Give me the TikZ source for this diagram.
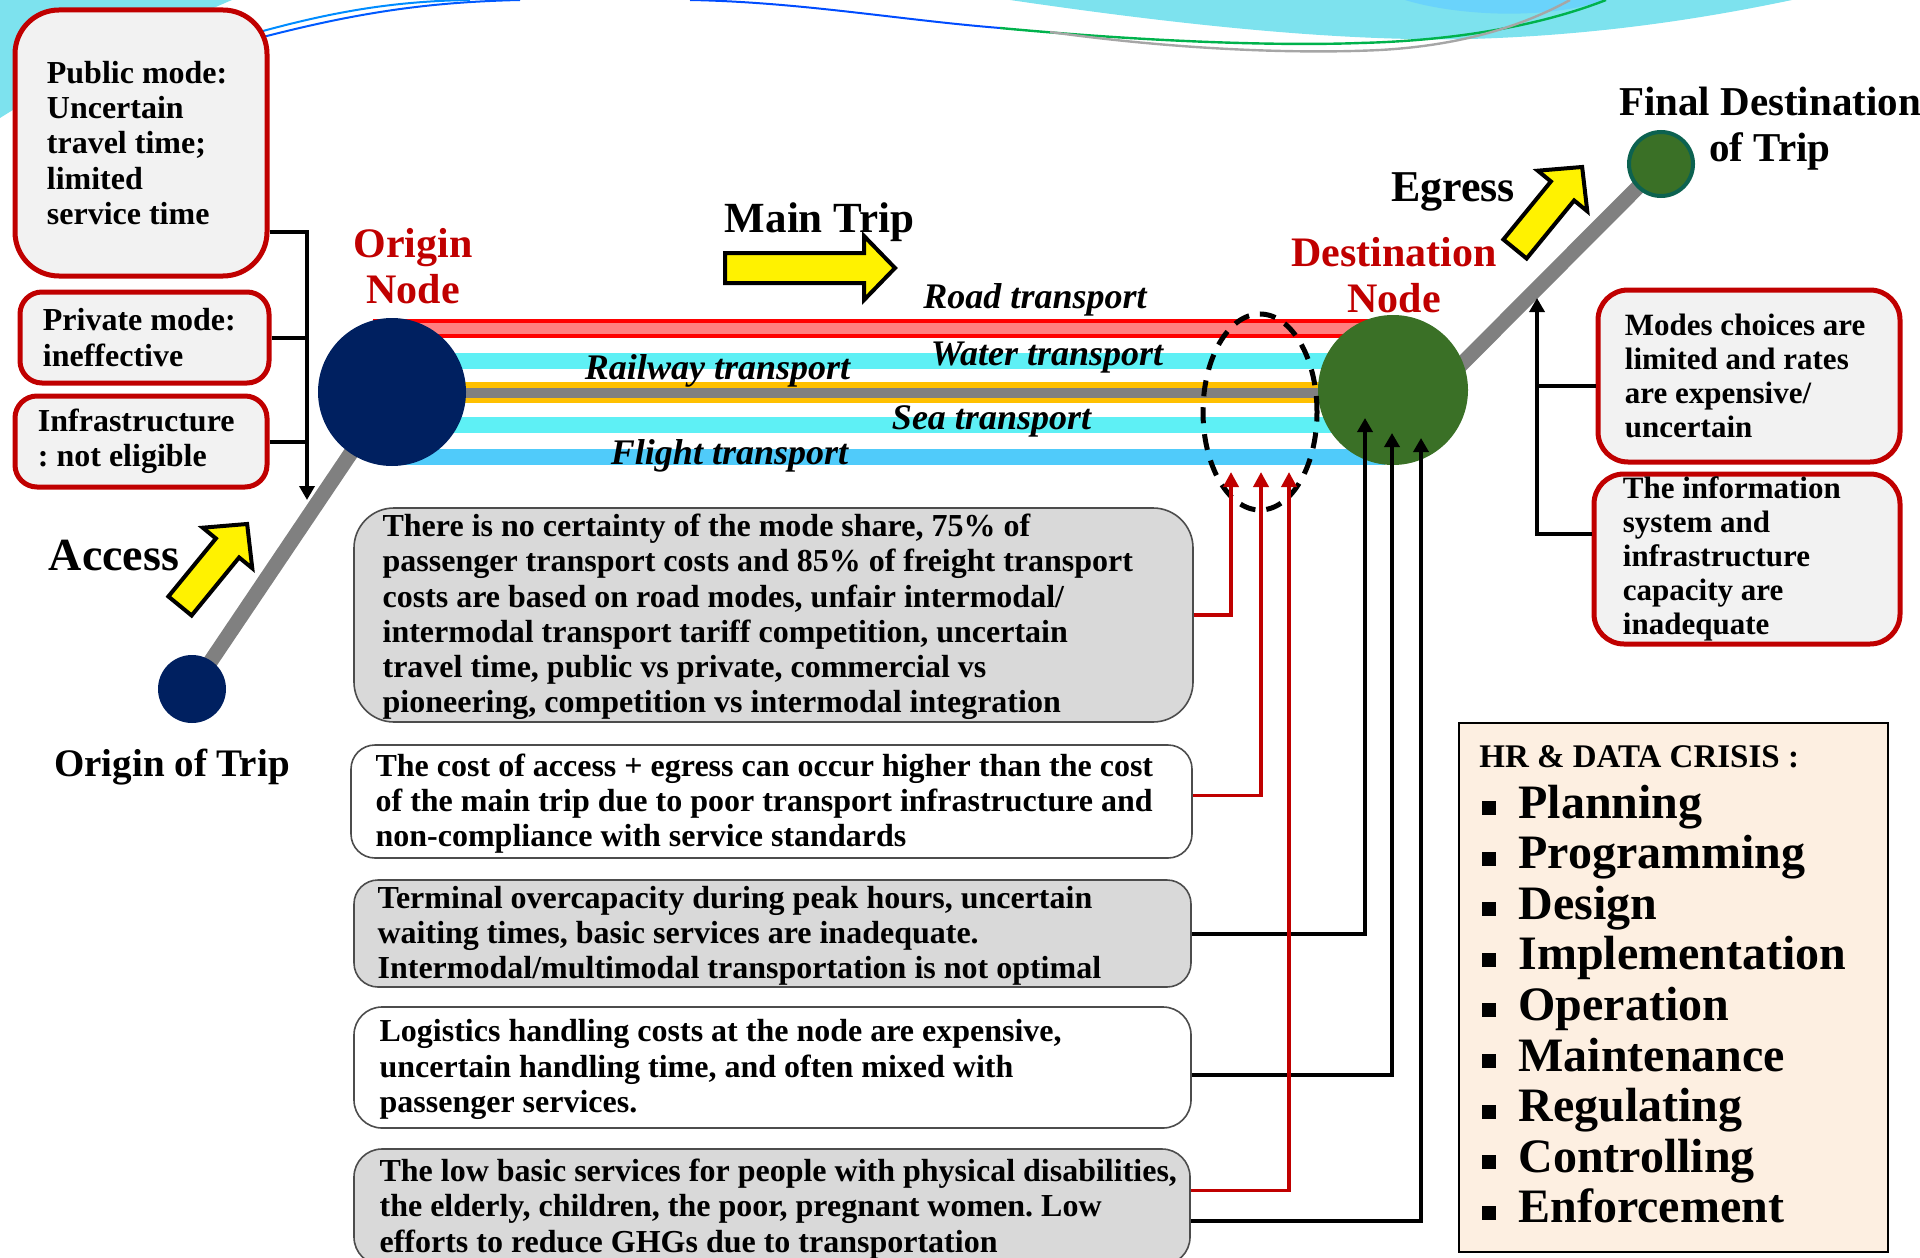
\documentclass[tikz,border=0pt]{standalone}
\usepackage{fontspec}
\setmainfont{Liberation Serif}
\usetikzlibrary{positioning,arrows.meta,shapes.geometric}
\definecolor{navy}{HTML}{002060}
\definecolor{dgreen}{RGB}{58,112,38}
\definecolor{tealring}{RGB}{12,98,80}
\definecolor{boxred}{HTML}{C00000}
\definecolor{boxfill}{HTML}{F2F2F2}
\definecolor{grayfill}{HTML}{D9D9D9}
\definecolor{peach}{RGB}{253,239,225}
\definecolor{roadred}{HTML}{FF0000}
\definecolor{roadpink}{HTML}{FF8080}
\definecolor{aqua}{RGB}{94,240,245}
\definecolor{railgold}{HTML}{FFC000}
\definecolor{sky}{RGB}{80,203,250}
\definecolor{linegray}{HTML}{808080}
\definecolor{swoosh}{RGB}{125,226,238}
\newcommand\fsz[2]{\fontsize{#1}{#2}\selectfont}
\frenchspacing
\tikzset{
  roadout/.style={draw=roadred, line width=9.5pt},
  roadin/.style={draw=roadpink, line width=5.5pt},
  aqualn/.style={draw=aqua, line width=8pt},
  railout/.style={draw=railgold, line width=10.5pt},
  railin/.style={draw=linegray, line width=5pt},
  skyln/.style={draw=sky, line width=8pt},
  legln/.style={draw=linegray, line width=7.5pt},
  navyball/.style={circle, fill=navy, inner sep=0pt},
  greenball/.style={circle, fill=dgreen, inner sep=0pt},
  hubring/.style={ellipse, draw=black, line width=2.5pt, dash pattern=on 8pt off 5.5pt, minimum width=57pt, minimum height=98pt},
  redbox/.style={draw=boxred, line width=2.5pt, fill=boxfill, rounded corners=#1, inner sep=0pt},
  graybox/.style={draw=black!70, line width=0.8pt, fill=grayfill, rounded corners=#1, inner sep=0pt},
  whitebox/.style={graybox=#1, fill=white},
  crisis/.style={draw=black, line width=1.2pt, fill=peach, inner sep=0pt},
  boxtxt/.style={font=\bfseries\fsz{16}{17.6}, align=left, inner sep=0pt, anchor=west},
  sidetxt/.style={font=\bfseries\fsz{15.5}{17}, align=left, inner sep=0pt, anchor=west},
  tlabel/.style={font=\bfseries\itshape\fsz{18}{20}, inner sep=0pt},
  biglbl/.style={font=\bfseries\fsz{#1}{23}, align=center, inner sep=0pt},
  redlbl/.style={biglbl=21, text=boxred},
  hrhead/.style={font=\bfseries\fsz{16.5}{20}, inner sep=0pt, anchor=base west},
  hritem/.style={font=\bfseries\fsz{24}{26}, inner sep=0pt, anchor=base west},
  link/.style={draw=black, line width=2pt},
  blkarr/.style={link, -{Triangle[length=7pt,width=7.5pt]}},
  redarr/.style={draw=boxred, line width=1.8pt, -{Triangle[length=7.5pt,width=7.5pt]}},
  yarrow/.pic={\draw[line width=2pt, fill=yellow, line join=miter]
    (0,-15) -- (#1-31,-15) -- (#1-31,-32) -- (#1,0) -- (#1-31,32) -- (#1-31,15) -- (0,15) -- cycle;}
}
\begin{document}
\begin{tikzpicture}[x=0.5pt,y=-0.5pt]
\useasboundingbox (0,0) rectangle (1920,1257);
% slide decoration at the top
\fill[swoosh] (0,0) -- (232,0) .. controls (150,35) and (60,80) .. (0,118) -- cycle;
\fill[swoosh] (1010,0) .. controls (1160,22) and (1330,42) .. (1470,39) .. controls (1610,35) and (1720,15) .. (1792,0) -- cycle;
\fill[sky!85] (1405,0) .. controls (1450,14) and (1540,22) .. (1605,0) -- cycle;
\draw[blue!65!cyan, line width=1pt] (263,37) .. controls (360,12) and (430,2) .. (520,0);
\draw[blue!45!cyan, line width=1pt] (263,31) .. controls (340,10) and (400,1) .. (470,0);
\draw[blue!70!cyan, line width=1pt] (690,0) .. controls (800,2) and (900,20) .. (1000,28);
\draw[teal!60!green, line width=1.2pt] (1000,28) .. controls (1150,42) and (1280,46) .. (1360,43) .. controls (1480,40) and (1560,18) .. (1606,0);
\draw[gray!70, line width=1.2pt] (1050,32) .. controls (1180,50) and (1300,54) .. (1380,50) .. controls (1470,45) and (1530,22) .. (1570,0);
% transport bands between the two nodes
\coordinate (o) at (392,392);
\coordinate (d) at (1393,390);
\coordinate (t) at (192,689);
\coordinate (f) at (1661,164);
\draw[roadout] (373,328.5) -- (1368,328.5);
\draw[roadin] (373,328.5) -- (1368,328.5);
\foreach \y in {361,425} \draw[aqualn] (o |- 0,\y) -- (d |- 0,\y);
\draw[railout] (o |- 0,392.5) -- (d |- 0,392.5);
\draw[railin] (o |- 0,392.5) -- (d |- 0,392.5);
\draw[skyln] (o |- 0,457) -- (1385,457);
\draw[legln] (t) -- (o);
\draw[legln] (d) ++(0,43) -- (f);
% nodes
\node[navyball, minimum size=74pt] (onode) at (o) {};
\node[navyball, minimum size=34pt] (otrip) at (t) {};
\node[greenball, minimum size=75pt] (dnode) at (d) {};
\node[greenball, draw=tealring, line width=2pt, minimum size=32pt] (fdest) at (f) {};
\node[hubring] (hub) at (1260,412) {};
% yellow arrows
\pic at (725,268) {yarrow=170};
\pic[rotate=50.7] at (180,606) {yarrow=106};
\pic[rotate=50.7] at (1515,249) {yarrow=106};
% labels
\node[redlbl] (olbl) at (413,266) {Origin\\Node};
\node[redlbl] (dlbl) at (1394,275) {Destination\\Node};
\node[biglbl=21.5] (mlbl) at (819.5,222) {Main Trip};
\node[biglbl=22] (elbl) at (1453,192) {Egress};
\node[biglbl=23] (albl) at (114,556) {Access};
\node[biglbl=19.5] (otlbl) at (172,767) {Origin of Trip};
\node[biglbl=20.5] (flbl) at (1770,129) {Final Destination\\of Trip};
\node[tlabel] (road) at (1035,300) {Road transport};
\node[tlabel] (water) at (1047,358) {Water transport};
\node[tlabel] (railway) at (717.5,371) {Railway transport};
\node[tlabel] (sea) at (991.5,421) {Sea transport};
\node[tlabel] (flight) at (729.5,456) {Flight transport};
% access side boxes
\node[redbox=22pt, minimum width=126pt, minimum height=133pt] (pub) at (141,143) {};
\node[boxtxt] (tpub) at ([xshift=17pt]pub.west) {Public mode:\\Uncertain\\travel time;\\limited\\service time};
\node[redbox=11pt, minimum width=124.5pt, minimum height=45.5pt] (priv) at (144.5,337.5) {};
\node[boxtxt] (tpriv) at ([xshift=12.5pt]priv.west) {Private mode:\\ineffective};
\node[redbox=11pt, minimum width=126pt, minimum height=45.5pt] (infra) at (141,441.5) {};
\node[boxtxt] (tinfra) at ([xshift=12.5pt]infra.west) {Infrastructure\\: not eligible};
\coordinate (ltip) at (307,500);
\draw[blkarr] ([yshift=-44.5pt]pub.east) -| (ltip);
\draw[link] (priv.east) -- (priv.east -| ltip);
\draw[link] (infra.east) -- (infra.east -| ltip);
% egress side boxes
\node[redbox=15pt, minimum width=151pt, minimum height=86pt] (r1) at (1749,376) {};
\node[sidetxt] (tr1) at ([xshift=14.5pt]r1.west) {Modes choices are\\limited and rates\\are expensive/\\uncertain};
\node[redbox=15pt, minimum width=153pt, minimum height=85pt] (r2) at (1747,559) {};
\node[sidetxt] (tr2) at ([xshift=15.5pt]r2.west) {The information\\system and\\infrastructure\\capacity are\\inadequate};
\coordinate (rtip) at (1537,298);
\draw[blkarr] ([yshift=12.5pt]r2.west) -| (rtip);
\coordinate (r1c) at ([yshift=-5pt]r1.west);
\draw[link] (r1c) -- (r1c -| rtip);
% problem boxes
\node[graybox=20pt, minimum width=419.5pt, minimum height=107pt] (b1) at (773.5,615) {};
\node[boxtxt] (t1) at ([xshift=14.5pt,yshift=-1pt]b1.west) {There is no certainty of the mode share, 75\% of\\passenger transport costs and 85\% of freight transport\\costs are based on road modes, unfair intermodal/\\intermodal transport tariff competition, uncertain\\travel time, public vs private, commercial vs\\pioneering, competition vs intermodal integration};
\node[whitebox=12pt, minimum width=420.5pt, minimum height=56.5pt] (b2) at (771.5,801.5) {};
\node[boxtxt] (t2) at ([xshift=12.5pt,yshift=-1pt]b2.west) {The cost of access + egress can occur higher than the cost\\of the main trip due to poor transport infrastructure and\\non-compliance with service standards};
\node[graybox=12pt, minimum width=418.5pt, minimum height=53.5pt] (b3) at (772.5,933.5) {};
\node[boxtxt] (t3) at ([xshift=12pt,yshift=-1pt]b3.west) {Terminal overcapacity during peak hours, uncertain\\waiting times, basic services are inadequate.\\Intermodal/multimodal transportation is not optimal};
\node[whitebox=14pt, minimum width=418.5pt, minimum height=60.5pt] (b4) at (772.5,1067.5) {};
\node[boxtxt] (t4) at ([xshift=13pt,yshift=-1pt]b4.west) {Logistics handling costs at the node are expensive,\\uncertain handling time, and often mixed with\\passenger services.};
\node[graybox=14pt, minimum width=418pt, minimum height=58pt] (b5) at (772,1207) {};
\node[boxtxt] (t5) at ([xshift=13pt,yshift=-1pt]b5.west) {The low basic services for people with physical disabilities,\\the elderly, children, the poor, pregnant women. Low\\efforts to reduce GHGs due to transportation};
% connectors to the node
\coordinate (ra) at (1231,472);
\coordinate (rb) at (1261,472);
\coordinate (rc) at (1289,472);
\coordinate (ka) at (1365,418);
\coordinate (kb) at (1392,433);
\coordinate (kc) at (1421,438);
\draw[blkarr] (b3.east) -| (ka);
\draw[blkarr] ([yshift=-3.75pt]b4.east) -| (kb);
\draw[blkarr] ([yshift=-6.75pt]b5.east) -| (kc);
\draw[redarr] (b1.east) -| (ra);
\draw[redarr] ([yshift=3pt]b2.east) -| (rb);
\draw[redarr] ([yshift=8.25pt]b5.east) -| (rc);
% HR and data crisis list
\node[crisis, minimum width=214.5pt, minimum height=264.5pt] (hr) at (1673.5,987.5) {};
\node[hrhead] (hrh) at (1479,767) {HR \& DATA CRISIS :};
\foreach \w [count=\i] in {Planning,Programming,Design,Implementation,Operation,Maintenance,Regulating,Controlling,Enforcement}{
  \node[hritem] (hr\i) at (1518,{818+50.6*(\i-1)}) {\w};
  \fill ([xshift=-18pt,yshift=1.5pt]hr\i.base west) rectangle ++(14,-14);
}
\end{tikzpicture}
\end{document}
